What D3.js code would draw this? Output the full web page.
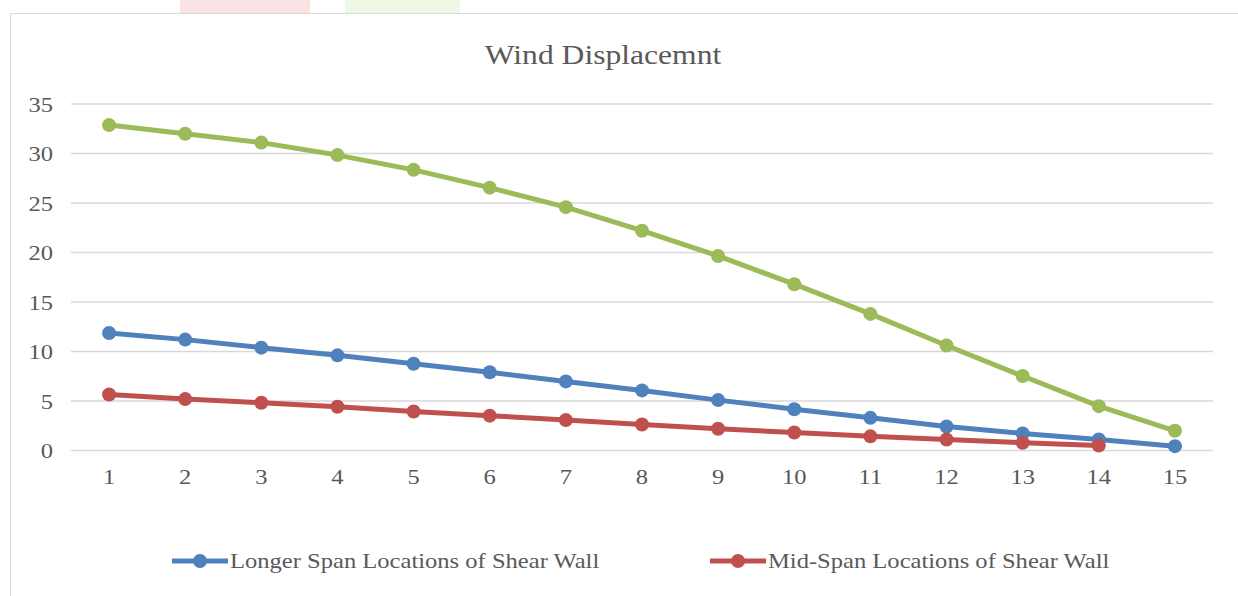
<!DOCTYPE html>
<html>
<head>
<meta charset="utf-8">
<script src="https://cdn.jsdelivr.net/npm/d3@7"></script>
<style>
  body { margin: 0; background: #fff; }
  svg { display: block; font-family: "Liberation Serif", "Times New Roman", serif; }
</style>
</head>
<body>
<div id="chart"></div>
<script>
const categories = [1, 2, 3, 4, 5, 6, 7, 8, 9, 10, 11, 12, 13, 14, 15];
const longerSpan = [11.87, 11.2, 10.39, 9.61, 8.77, 7.9, 6.98, 6.07, 5.09, 4.17, 3.3, 2.43, 1.72, 1.11, 0.44];
const midSpan = [5.66, 5.19, 4.82, 4.42, 3.94, 3.52, 3.07, 2.63, 2.19, 1.82, 1.43, 1.11, 0.78, 0.5];
const thirdSeries = [32.87, 32.0, 31.1, 29.84, 28.35, 26.55, 24.58, 22.2, 19.65, 16.8, 13.8, 10.6, 7.52, 4.48, 1.99];
const yTicks = [0, 5, 10, 15, 20, 25, 30, 35];

const series = [
  { name: 'Longer Span Locations of Shear Wall', color: '#4F81BD', values: longerSpan },
  { name: 'Mid-Span Locations of Shear Wall', color: '#C0504D', values: midSpan },
  { name: '', color: '#9BBB59', values: thirdSeries },
];

const W = 1238, H = 596;
const margin = { top: 104, right: 25, bottom: 147, left: 71 };
// the source picture is stretched sideways, so text gets a horizontal scale
const stretch = 1.17;

const svg = d3.select('#chart').append('svg')
  .attr('width', W)
  .attr('height', H);

// faint scraps above the chart frame
svg.append('rect').attr('x', 180).attr('y', 0).attr('width', 130).attr('height', 13).attr('fill', '#fbe3e3');
svg.append('rect').attr('x', 345).attr('y', 0).attr('width', 115).attr('height', 13).attr('fill', '#eef8e6');

// chart frame
svg.append('rect')
  .attr('x', 10.5).attr('y', 13.5)
  .attr('width', W + 10).attr('height', H + 10)
  .attr('fill', '#fff')
  .attr('stroke', '#d9d9d9');

const x = d3.scaleBand()
  .domain(categories)
  .range([margin.left, W - margin.right]);

const y = d3.scaleLinear()
  .domain([0, 35])
  .range([H - margin.bottom + 1.5, margin.top]);

const cx = d => x(d) + x.bandwidth() / 2;

svg.append('text')
  .attr('transform', `translate(603,64) scale(${stretch},1)`)
  .attr('text-anchor', 'middle')
  .attr('fill', '#595959')
  .attr('font-size', 27)
  .text('Wind Displacemnt');

// gridlines
svg.append('g')
  .selectAll('line')
  .data(yTicks)
  .join('line')
  .attr('x1', margin.left)
  .attr('x2', W - margin.right)
  .attr('y1', d => y(d))
  .attr('y2', d => y(d))
  .attr('stroke', '#d9d9d9')
  .attr('stroke-width', 1.5);

const yAxis = svg.append('g')
  .attr('transform', `translate(${margin.left - 18},0)`)
  .call(d3.axisLeft(y).tickValues(yTicks).tickSize(0).tickPadding(0));
yAxis.select('.domain').remove();
yAxis.selectAll('.tick text')
  .attr('transform', `scale(${stretch},1)`)
  .attr('fill', '#595959')
  .attr('font-size', 21)
  .attr('font-family', '"Liberation Serif", serif')
  .attr('dy', '0.35em');

const xAxis = svg.append('g')
  .attr('transform', `translate(0,${y(0)})`)
  .call(d3.axisBottom(x).tickSize(0).tickPadding(19));
xAxis.select('.domain').remove();
xAxis.selectAll('.tick text')
  .attr('transform', `scale(${stretch},1)`)
  .attr('fill', '#595959')
  .attr('font-size', 21)
  .attr('font-family', '"Liberation Serif", serif');

const line = d3.line()
  .x((d, i) => cx(categories[i]))
  .y(d => y(d));

series.forEach(s => {
  const g = svg.append('g');
  g.append('path')
    .datum(s.values)
    .attr('d', line)
    .attr('fill', 'none')
    .attr('stroke', s.color)
    .attr('stroke-width', 5)
    .attr('stroke-linejoin', 'round');
  g.selectAll('circle')
    .data(s.values)
    .join('circle')
    .attr('cx', (d, i) => cx(categories[i]))
    .attr('cy', d => y(d))
    .attr('r', 7)
    .attr('fill', s.color);
});

// legend
const legendItems = [
  { s: series[0], x: 172 },
  { s: series[1], x: 710 },
];
const lg = svg.append('g');
legendItems.forEach(item => {
  const g = lg.append('g').attr('transform', `translate(${item.x},561)`);
  g.append('line')
    .attr('x1', 0).attr('x2', 56)
    .attr('stroke', item.s.color)
    .attr('stroke-width', 5);
  g.append('circle')
    .attr('cx', 28).attr('r', 7)
    .attr('fill', item.s.color);
  g.append('text')
    .attr('transform', `translate(58,0) scale(${stretch},1)`)
    .attr('dy', '0.35em')
    .attr('fill', '#595959')
    .attr('font-size', 21)
    .text(item.s.name);
});
</script>
</body>
</html>
